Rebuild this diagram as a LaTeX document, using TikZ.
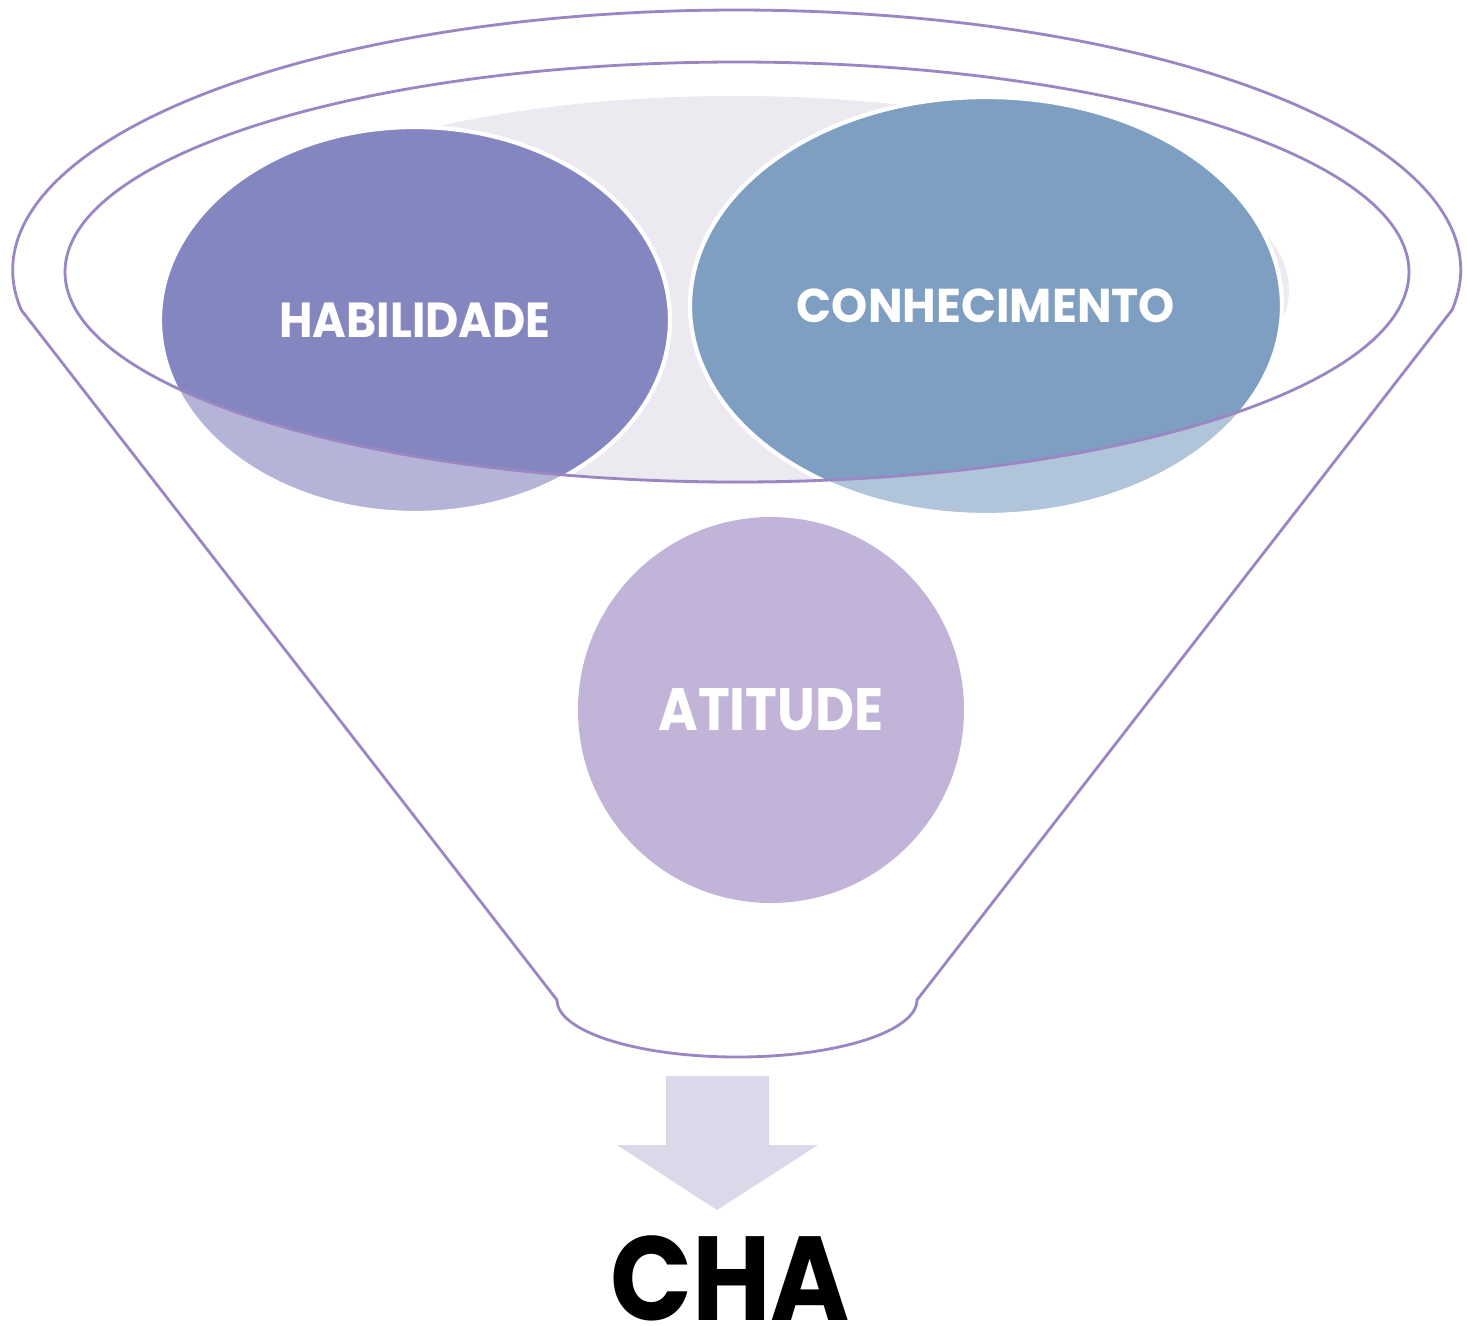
\documentclass[tikz,border=0pt]{standalone}
\usepackage{fontspec}
\setmainfont{Poppins}
\usetikzlibrary{shapes.geometric}

\definecolor{funnelline}{HTML}{9A86C2}
\definecolor{palebg}{HTML}{ECE9F1}
\definecolor{habdark}{HTML}{8486BF}
\definecolor{hablight}{HTML}{B4B4D8}
\definecolor{condark}{HTML}{7F9FC2}
\definecolor{conlight}{HTML}{B0C4DA}
\definecolor{atifill}{HTML}{C2B4D8}
\definecolor{arrowfill}{HTML}{DCD8E9}

\newcommand{\squeeze}[2][0.9]{\scalebox{#1}[1]{#2}}

\tikzset{
	blob/.style={ellipse, draw=white, line width=1.2pt, inner sep=0pt, text=white, font=\bfseries},
	funnel/.style={draw=funnelline, line width=0.8pt}
}

\begin{document}
\begin{tikzpicture}[x=0.1mm,y=-0.1mm]
		\useasboundingbox (0,0) rectangle (1467,1326);
		
		% Pale background behind the two top ellipses
		\fill[palebg] (735,290) ellipse [x radius=55.4mm, y radius=19.4mm];
		
		% Top ellipses, lighter part outside the funnel mouth
		\fill[hablight] (415,320) ellipse [x radius=25.5mm, y radius=19.3mm];
		\fill[conlight] (986,306) ellipse [x radius=29.6mm, y radius=20.9mm];
		\begin{scope}
			\clip (737,272) ellipse [x radius=67.2mm, y radius=21mm];
			\fill[habdark] (415,320) ellipse [x radius=25.5mm, y radius=19.3mm];
			\fill[condark] (986,306) ellipse [x radius=29.6mm, y radius=20.9mm];
		\end{scope}
		
		% Labels
		\node[blob, minimum width=51mm, minimum height=38.6mm, font=\bfseries\fontsize{14}{16}\selectfont] (hab) at (415,320) {\squeeze[0.93]{HABILIDADE}};
		\node[blob, minimum width=59.2mm, minimum height=41.8mm, font=\bfseries\fontsize{13.5}{16}\selectfont] (con) at (986,306) {\squeeze[0.97]{CONHECIMENTO}};
		\node[blob, draw=none, fill=atifill, circle, minimum size=38.6mm, font=\bfseries\fontsize{17}{20}\selectfont] (ati) at (771,710) {\squeeze{ATITUDE}};
		
		% Funnel outline
		\draw[funnel] (737,272) ellipse [x radius=67.2mm, y radius=21mm];
		\draw[funnel] (557,1000) arc [start angle=180, end angle=360, x radius=18mm, y radius=5.7mm]
			-- (1452,310) arc [start angle=-8.85, end angle=188.85, x radius=72.4mm, y radius=26mm] -- cycle;
		
		% Arrow and result
		\fill[arrowfill] (666,1076) -- (769,1076) -- (769,1145) -- (818,1145) -- (717,1210) -- (617,1145) -- (666,1145) -- cycle;
		\node[anchor=base, inner sep=0pt, font=\bfseries\fontsize{34}{40}\selectfont] (cha) at (730,1320) {\squeeze{CHA}};
	\end{tikzpicture}
\end{document}
